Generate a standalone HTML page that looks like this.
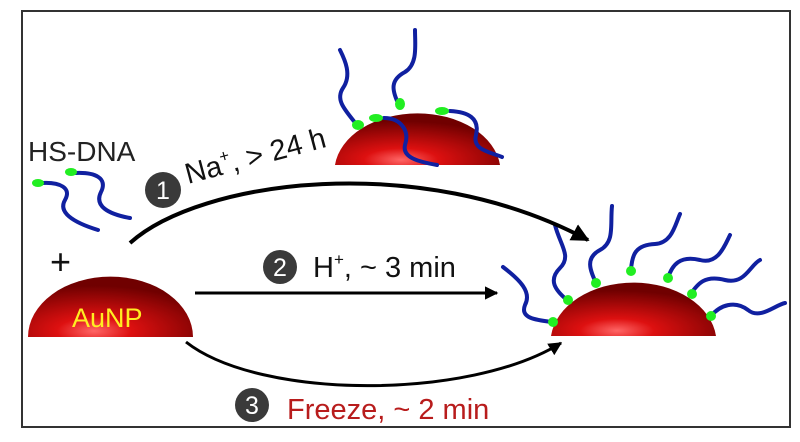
<!DOCTYPE html>
<html><head><meta charset="utf-8"><style>
html,body{margin:0;padding:0;background:#fff;}
svg{display:block;font-family:"Liberation Sans",Arial,sans-serif;}
</style></head><body>
<svg width="800" height="442" viewBox="0 0 800 442" xmlns="http://www.w3.org/2000/svg">
<defs>
<radialGradient id="np" cx="0.4" cy="0.9" r="0.75">
<stop offset="0" stop-color="#ff6666"/>
<stop offset="0.3" stop-color="#dd1010"/>
<stop offset="1" stop-color="#700000"/>
</radialGradient>
<marker id="ah" viewBox="0 0 10 10" refX="9" refY="5" markerWidth="4.5" markerHeight="4.5" orient="auto">
<path d="M0,0 L10,5 L0,10 z" fill="#000"/>
</marker>
</defs>
<rect x="22" y="11" width="768" height="416" fill="#fff" stroke="#333" stroke-width="2"/>

<text x="28" y="161" font-size="28" fill="#222">HS-DNA</text>
<g fill="none" stroke="#1020a0" stroke-width="4" stroke-linecap="round">
<path d="M42,183 C60,182 72,188 65,200 C58,212 72,222 98,230"/>
<path d="M75,173 C95,172 108,178 101,192 C94,206 108,214 130,218"/>
</g>
<ellipse cx="38" cy="183" rx="6" ry="4" fill="#22ee22"/>
<ellipse cx="71" cy="172" rx="6" ry="4" fill="#22ee22"/>
<text x="50" y="274" font-size="36" fill="#111">+</text>

<path d="M28,337 A82,60 0 0 1 193,337 Z" fill="url(#np)"/>
<text x="72" y="327" font-size="27" fill="#ffee22">AuNP</text>

<path d="M335,165 A83,58 0 0 1 500,165 Z" fill="url(#np)"/>
<g fill="none" stroke="#1020a0" stroke-width="4" stroke-linecap="round">
<path d="M357,125 C345,110 335,100 343,88 C352,75 345,60 340,50"/>
<path d="M398,103 C392,90 390,80 405,72 C418,64 415,45 415,30"/>
<path d="M384,118 C400,118 410,130 405,145 C402,158 420,162 437,165"/>
<path d="M450,111 C468,112 480,118 476,135 C472,150 490,152 502,157"/>
</g>
<ellipse cx="358" cy="125" rx="6" ry="5" fill="#22ee22"/>
<ellipse cx="376" cy="118" rx="7" ry="4" fill="#22ee22"/>
<ellipse cx="400" cy="104" rx="5" ry="6" fill="#22ee22"/>
<ellipse cx="442" cy="111" rx="7" ry="4" fill="#22ee22"/>

<path d="M551,336 A83,60 0 0 1 716,336 Z" fill="url(#np)"/>
<g fill="none" stroke="#1020a0" stroke-width="4" stroke-linecap="round">
<path d="M552,322 C535,320 520,318 525,305 C532,292 520,280 503,267"/>
<path d="M567,300 C555,290 548,280 560,268 C572,256 560,245 555,225"/>
<path d="M596,283 C590,270 585,258 600,250 C615,242 610,225 612,206"/>
<path d="M631,270 C632,255 635,245 655,244 C672,243 675,225 680,214"/>
<path d="M668,278 C672,265 680,255 700,260 C718,265 725,245 730,235"/>
<path d="M690,295 C698,283 705,275 725,280 C745,285 750,265 760,260"/>
<path d="M711,316 C720,305 735,300 748,310 C760,320 775,305 785,303"/>
</g>
<ellipse cx="553" cy="322" rx="5" ry="5" fill="#22ee22"/>
<ellipse cx="568" cy="300" rx="5" ry="5" fill="#22ee22"/>
<ellipse cx="596" cy="283" rx="5" ry="5" fill="#22ee22"/>
<ellipse cx="631" cy="271" rx="5" ry="5" fill="#22ee22"/>
<ellipse cx="668" cy="278" rx="5" ry="5" fill="#22ee22"/>
<ellipse cx="692" cy="294" rx="5" ry="5" fill="#22ee22"/>
<ellipse cx="711" cy="316" rx="5" ry="5" fill="#22ee22"/>

<path d="M130,243 C200,180 420,150 588,240" fill="none" stroke="#000" stroke-width="4" marker-end="url(#ah)"/>
<line x1="195" y1="293" x2="497" y2="293" stroke="#000" stroke-width="3" marker-end="url(#ah)"/>
<path d="M186,342 C260,400 470,400 561,343" fill="none" stroke="#000" stroke-width="3" marker-end="url(#ah)"/>

<circle cx="163" cy="190" r="18" fill="#3a3a3a"/>
<text x="163" y="199" font-size="25" fill="#fff" text-anchor="middle">1</text>
<text x="188" y="184" font-size="29" fill="#111" transform="rotate(-15 188 184)">Na<tspan font-size="17" dy="-12">+</tspan><tspan dy="12">, &gt; 24 h</tspan></text>

<circle cx="280" cy="267" r="17" fill="#3a3a3a"/>
<text x="280" y="276" font-size="25" fill="#fff" text-anchor="middle">2</text>
<text x="313" y="277" font-size="29" fill="#111">H<tspan font-size="17" dy="-12">+</tspan><tspan dy="12">, ~ 3 min</tspan></text>

<circle cx="252" cy="405" r="17" fill="#3a3a3a"/>
<text x="252" y="414" font-size="25" fill="#fff" text-anchor="middle">3</text>
<text x="287" y="419" font-size="29" fill="#b81c1c">Freeze, ~ 2 min</text>
</svg>
</body></html>
